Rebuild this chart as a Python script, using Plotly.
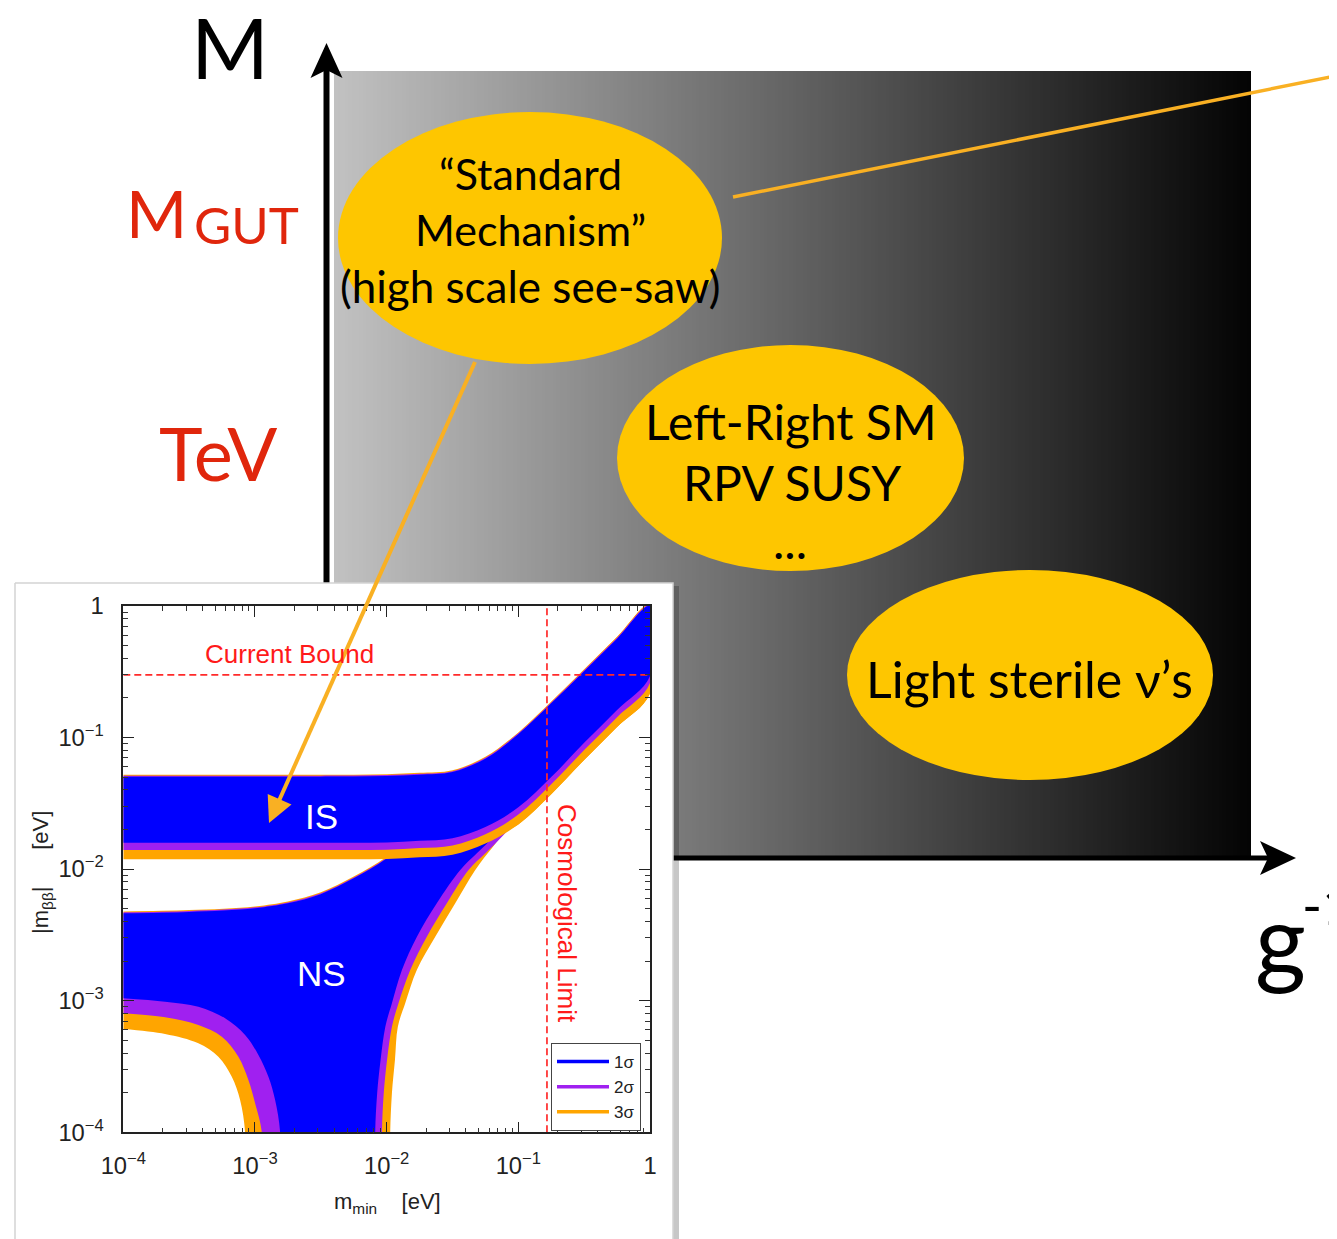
import numpy as np
import plotly.graph_objects as go

# reference frame (slide pixels)
REF_W, REF_H = 1337, 1239
OFF = 8                      # page body margin of the browser
W, H = REF_W - OFF, REF_H - OFF

# ------------------------------------------------------------------
# DATA  (inset: log10 of m_min [eV] and log10 of |m_bb| [eV])
# ------------------------------------------------------------------
LOG_M = [-4.0, -3.5, -3.0, -2.5, -2.25, -2.0, -1.75, -1.5, -1.25, -1.0, -0.75, -0.5, -0.25, 0.0]
IS_UPPER = [-1.297, -1.297, -1.297, -1.297, -1.296, -1.292, -1.282, -1.262, -1.16, -0.975, -0.74, -0.495, -0.248, 0.0]
IS_LOWER_1S = [-1.799, -1.799, -1.799, -1.799, -1.799, -1.797, -1.785, -1.765, -1.68, -1.53, -1.30, -1.04, -0.79, -0.532]
IS_LOWER_2S = [-1.854, -1.854, -1.854, -1.854, -1.854, -1.852, -1.84, -1.82, -1.735, -1.585, -1.355, -1.095, -0.845, -0.586]
IS_LOWER_3S = [-1.925, -1.925, -1.925, -1.925, -1.925, -1.923, -1.91, -1.89, -1.805, -1.66, -1.43, -1.17, -0.92, -0.663]

NS_UP_X = [-4.0, -3.5, -3.0, -2.75, -2.5, -2.25, -2.0, -1.75, -1.5, -1.25, -1.0, -0.75, -0.5, -0.25, 0.0]
NS_UP_Y = [-2.335, -2.325, -2.297, -2.26, -2.19, -2.07, -1.92, -1.71, -1.48, -1.24, -0.995, -0.747, -0.5, -0.25, 0.0]

# lower-left edge of the normal-ordering funnel (from m_min = 1e-4 down to the cancellation)
FUNNEL_1S_X = [-4.0, -3.683, -3.43, -3.227, -3.075, -2.974, -2.898, -2.847, -2.809]
FUNNEL_1S_Y = [-2.981, -3.007, -3.045, -3.133, -3.26, -3.412, -3.577, -3.754, -4.0]
FUNNEL_2S_X = [-4.0, -3.683, -3.43, -3.252, -3.126, -3.05, -2.999, -2.948]
FUNNEL_2S_Y = [-3.095, -3.125, -3.184, -3.273, -3.425, -3.602, -3.779, -4.0]
FUNNEL_3S_X = [-4.0, -3.683, -3.43, -3.278, -3.176, -3.113, -3.075]
FUNNEL_3S_Y = [-3.214, -3.252, -3.323, -3.425, -3.577, -3.754, -4.0]

# lower-right edge of the normal-ordering band (from the cancellation up to m_min = 1)
NSR_1S_X = [-2.087, -2.072, -2.046, -2.010, -1.960, -1.884, -1.770, -1.619, -1.441, -1.315, -1.188, -1.062, -0.95, -0.75, -0.5, -0.25, 0.0]
NSR_1S_Y = [-4.0, -3.703, -3.45, -3.197, -3.019, -2.766, -2.513, -2.259, -2.006, -1.88, -1.753, -1.601, -1.484, -1.30, -1.04, -0.79, -0.532]
NSR_2S_X = [-2.036, -2.022, -1.997, -1.960, -1.910, -1.821, -1.695, -1.543, -1.378, -1.25, -1.125, -1.0, -0.92, -0.75, -0.5, -0.25, 0.0]
NSR_2S_Y = [-4.0, -3.703, -3.45, -3.197, -3.019, -2.766, -2.513, -2.259, -2.006, -1.88, -1.753, -1.62, -1.511, -1.355, -1.095, -0.845, -0.586]
NSR_3S_X = [-1.973, -1.960, -1.937, -1.915, -1.859, -1.771, -1.631, -1.479, -1.327, -1.2, -1.1, -1.0, -0.75, -0.5, -0.25, 0.0]
NSR_3S_Y = [-4.0, -3.703, -3.45, -3.197, -3.019, -2.766, -2.513, -2.259, -2.006, -1.84, -1.718, -1.66, -1.43, -1.17, -0.92, -0.663]

CURRENT_BOUND = 0.3      # eV
COSMO_LIMIT = 0.165      # eV

SIGMA_NAMES = ["1σ", "2σ", "3σ"]
SIGMA_COLORS = ["#0000ff", "#a020f0", "#ffa500"]

# main cartoon texts
AXIS_LABEL_Y = "M"
SCALE_LABELS = ["TeV"]
BUBBLE_TEXTS = [
    ["“Standard", "Mechanism”", "(high scale see-saw)"],
    ["Left-Right SM", "RPV SUSY", "..."],
    ["Light sterile ν’s"],
]

# ------------------------------------------------------------------
# STYLE / LAYOUT CONSTANTS (pixel frame of the slide)
# ------------------------------------------------------------------
RED = "#e0260c"
YELLOW = "#fec600"
ORANGE_LINE = "#f9b023"
MAIN_FONT = "Lato"
INSET_FONT = "Liberation Sans"

GRAD_X0, GRAD_X1, GRAD_Y0, GRAD_Y1 = 334, 1251, 71, 858
AX_X, AX_Y = 326.5, 858
INSET_BOX = (15, 583, 673, 1250)
PLOT_X0, PLOT_X1, PLOT_Y0, PLOT_Y1 = 123.3, 650.0, 606.0, 1132.3
BOTTOM_OUT = -4.4   # polygon closing level below the inset axis

def fx(px):
    return (px - OFF) / W

def fy(py):
    return 1 - (py - OFF) / H

fig = go.Figure()

# ---- gradient background of the cartoon
ncol = 256
edges = np.linspace(GRAD_X0, GRAD_X1, ncol + 1)
fig.add_trace(go.Heatmap(
    x=edges, y=[GRAD_Y0, GRAD_Y1], z=[np.linspace(1, 0, ncol)],
    colorscale=[[0, "rgb(4,4,4)"], [1, "rgb(193,193,193)"]], zmin=0, zmax=1,
    showscale=False, hoverinfo="skip", xaxis="x", yaxis="y"))

# ---- cartoon axes
def poly(xs, ys, color, opacity=1.0, line=None, xa="x", ya="y"):
    return go.Scatter(x=xs, y=ys, fill="toself", fillcolor=color, mode="lines",
                      line=line or dict(width=0, color=color), opacity=opacity,
                      hoverinfo="skip", showlegend=False, xaxis=xa, yaxis=ya)

fig.add_trace(go.Scatter(x=[AX_X, AX_X], y=[AX_Y + 2, 66], mode="lines",
                         line=dict(color="black", width=6), hoverinfo="skip", showlegend=False))
fig.add_trace(go.Scatter(x=[AX_X - 3, 1272], y=[AX_Y, AX_Y], mode="lines",
                         line=dict(color="black", width=5), hoverinfo="skip", showlegend=False))

def arrow_head(tip, direction, length, half, notch):
    tx, ty = tip
    dx, dy = direction
    n = np.hypot(dx, dy)
    ux, uy = dx / n, dy / n
    px, py = -uy, ux
    bx, by = tx - length * ux, ty - length * uy
    nx, ny = tx - (length - notch) * ux, ty - (length - notch) * uy
    return ([tx, bx + half * px, nx, bx - half * px, tx],
            [ty, by + half * py, ny, by - half * py, ty])

hx, hy = arrow_head((AX_X, 43), (0, -1), 35, 16, 8)
fig.add_trace(poly(hx, hy, "black"))
hx, hy = arrow_head((1296, AX_Y), (1, 0), 36, 17, 8)
fig.add_trace(poly(hx, hy, "black"))

# ---- inset panel (shadow + white card)
bx0, by0, bx1, by1 = INSET_BOX
fig.add_trace(poly([bx0 + 3, bx1 + 6, bx1 + 6, bx0 + 3, bx0 + 3],
                   [by0 + 3, by0 + 3, by1, by1, by0 + 3], "rgba(0,0,0,0.22)"))
fig.add_trace(poly([bx0, bx1, bx1, bx0, bx0], [by0, by0, by1, by1, by0], "white",
                   line=dict(color="#d4d4d4", width=1.5)))

# ---- inset bands
def p10(a):
    return list(10 ** np.asarray(a, dtype=float))

def ns_polygon(up_off, rx, ry, lx, ly):
    xs = list(NS_UP_X) + list(reversed(rx)) + [rx[0], lx[-1]] + list(reversed(lx))
    ys = [v + up_off for v in NS_UP_Y] + list(reversed(ry)) + [BOTTOM_OUT, BOTTOM_OUT] + list(reversed(ly))
    return xs, ys

def is_polygon(up_off, lower):
    xs = list(LOG_M) + list(reversed(LOG_M))
    ys = [v + up_off for v in IS_UPPER] + list(reversed(lower))
    return xs, ys

ns_specs = [  # drawn 3σ -> 1σ
    (2, 0.014, NSR_3S_X, NSR_3S_Y, FUNNEL_3S_X, FUNNEL_3S_Y),
    (1, 0.007, NSR_2S_X, NSR_2S_Y, FUNNEL_2S_X, FUNNEL_2S_Y),
    (0, 0.0, NSR_1S_X, NSR_1S_Y, FUNNEL_1S_X, FUNNEL_1S_Y),
]
for k, off, rx, ry, lx, ly in ns_specs:
    xs, ys = ns_polygon(off, rx, ry, lx, ly)
    fig.add_trace(go.Scatter(x=p10(xs), y=p10(ys), fill="toself", fillcolor=SIGMA_COLORS[k],
                             mode="lines", line=dict(width=0, color=SIGMA_COLORS[k], shape="spline", smoothing=1.0),
                             hoverinfo="skip", showlegend=False, xaxis="x2", yaxis="y2"))

is_specs = [(2, 0.014, IS_LOWER_3S), (1, 0.007, IS_LOWER_2S), (0, 0.0, IS_LOWER_1S)]
for k, off, low in is_specs:
    xs, ys = is_polygon(off, low)
    fig.add_trace(go.Scatter(x=p10(xs), y=p10(ys), fill="toself", fillcolor=SIGMA_COLORS[k],
                             mode="lines", line=dict(width=0, color=SIGMA_COLORS[k], shape="spline", smoothing=1.0),
                             hoverinfo="skip", showlegend=False, xaxis="x2", yaxis="y2"))

# dashed limits
fig.add_trace(go.Scatter(x=[1e-4, 1], y=[CURRENT_BOUND, CURRENT_BOUND], mode="lines",
                         line=dict(color="#ff2a2a", width=1.7, dash="7px,4px"),
                         hoverinfo="skip", showlegend=False, xaxis="x2", yaxis="y2"))
fig.add_trace(go.Scatter(x=[COSMO_LIMIT, COSMO_LIMIT], y=[1e-4, 1], mode="lines",
                         line=dict(color="#ff2a2a", width=1.7, dash="7px,4px"),
                         hoverinfo="skip", showlegend=False, xaxis="x2", yaxis="y2"))

# legend entries
for name, col in zip(SIGMA_NAMES, SIGMA_COLORS):
    fig.add_trace(go.Scatter(x=[None], y=[None], mode="lines", name=name,
                             line=dict(color=col, width=3.5), xaxis="x2", yaxis="y2"))

# ---- shapes: bubbles, connecting orange lines
ellipses = [(338, 112, 722, 364), (617, 345, 964, 571), (847, 570, 1213, 780)]
shapes = []
for (x0, y0, x1, y1) in ellipses:
    shapes.append(dict(type="circle", xref="x", yref="y", x0=x0, x1=x1, y0=y0, y1=y1,
                       fillcolor=YELLOW, line=dict(width=0), layer="above"))
shapes.append(dict(type="line", xref="x", yref="y", x0=733, y0=197, x1=1345, y1=74,
                   line=dict(color=ORANGE_LINE, width=3.5), layer="above"))
tail, tip = (475, 362), (269, 823)
shapes.append(dict(type="line", xref="x", yref="y", x0=tail[0], y0=tail[1], x1=278, y1=803,
                   line=dict(color=ORANGE_LINE, width=4), layer="above"))
hx, hy = arrow_head(tip, (tip[0] - tail[0], tip[1] - tail[1]), 26, 13, 0)
path = "M " + " L ".join(f"{a:.1f},{b:.1f}" for a, b in zip(hx, hy)) + " Z"
shapes.append(dict(type="path", xref="x", yref="y", path=path, fillcolor=ORANGE_LINE,
                   line=dict(width=0), layer="above"))

# ---- annotations
ann = []
def T(x, y, text, size, color="black", font=MAIN_FONT, xanchor="center", yanchor="middle", angle=0):
    ann.append(dict(x=x, y=y, xref="x", yref="y", text=text, showarrow=False,
                    font=dict(family=font, size=size, color=color),
                    xanchor=xanchor, yanchor=yanchor, textangle=angle))

T(230, 46, AXIS_LABEL_Y, 84)
T(189, 212, "M", 66, RED, xanchor="right")
T(192, 224, "GUT", 51, RED, xanchor="left")
T(218, 452, SCALE_LABELS[0], 74, RED)
T(1253, 938, "g", 98, xanchor="left")
T(1300, 904, "-1", 54, xanchor="left")

T(530, 173, BUBBLE_TEXTS[0][0], 43)
T(530, 229, BUBBLE_TEXTS[0][1], 43)
T(530, 286, BUBBLE_TEXTS[0][2], 44)
T(790, 421, BUBBLE_TEXTS[1][0], 48)
T(792, 482, BUBBLE_TEXTS[1][1], 48)
T(790, 540, BUBBLE_TEXTS[1][2], 48)
T(1029, 679, BUBBLE_TEXTS[2][0], 50)

NB = "\u00a0"
T(289, 654, "Current Bound", 26, "#ff1a1a", INSET_FONT)
T(567, 913, "Cosmological Limit", 26, "#ff1a1a", INSET_FONT, angle=90)
T(321, 816, "IS", 35, "white", INSET_FONT)
T(321, 973, "NS", 35, "white", INSET_FONT)
T(42, 873, "|m<sub>ββ</sub>|" + NB * 6 + "[eV]", 22, "#222", INSET_FONT, angle=-90)
T(387, 1203, "m<sub>min</sub>" + NB * 4 + "[eV]", 22, "#222", INSET_FONT)

inset_axis = dict(type="log", range=[-4, 0], dtick=1, exponentformat="power", showexponent="all",
                  showgrid=False, zeroline=False, showline=True, linecolor="#222", linewidth=1.5,
                  mirror="allticks", ticks="inside", ticklen=11, tickwidth=1.2, tickcolor="#222",
                  minor=dict(ticks="inside", ticklen=5, tickwidth=1, tickcolor="#333", showgrid=False),
                  tickfont=dict(family=INSET_FONT, size=19, color="#222"), automargin=False)

fig.update_layout(
    width=W, height=H, autosize=False,
    margin=dict(l=0, r=0, t=0, b=0, pad=0),
    paper_bgcolor="white", plot_bgcolor="white",
    xaxis=dict(domain=[0, 1], range=[OFF, REF_W], visible=False, fixedrange=True, automargin=False),
    yaxis=dict(domain=[0, 1], range=[REF_H, OFF], visible=False, fixedrange=True, automargin=False),
    xaxis2=dict(inset_axis, domain=[fx(PLOT_X0), fx(PLOT_X1)], anchor="y2", ticklabelstandoff=12),
    yaxis2=dict(inset_axis, domain=[fy(PLOT_Y1), fy(PLOT_Y0)], anchor="x2", ticklabelstandoff=14),
    shapes=shapes,
    annotations=ann,
    showlegend=True,
    legend=dict(x=fx(551), y=fy(1043), xanchor="left", yanchor="top",
                bgcolor="white", bordercolor="#444", borderwidth=1,
                font=dict(family=INSET_FONT, size=17, color="#222"),
                itemwidth=52, tracegroupgap=0),
)

fig.write_html("out.html")
